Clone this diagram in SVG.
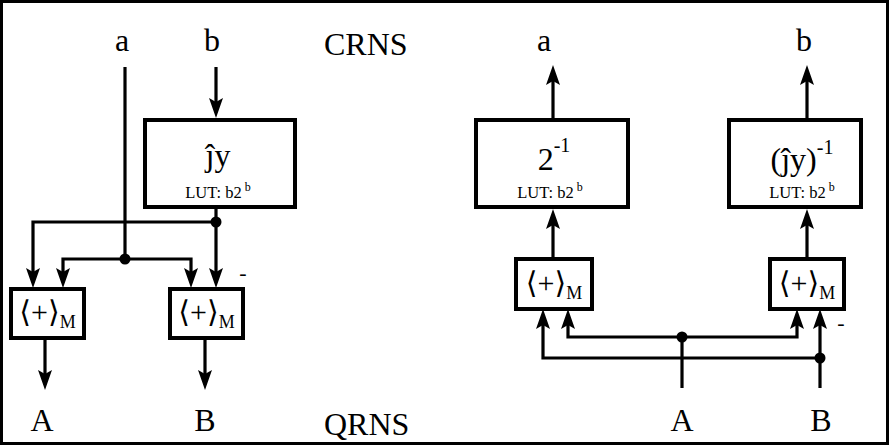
<svg xmlns="http://www.w3.org/2000/svg" width="889" height="445" viewBox="0 0 889 445">
<defs>
<style>
.frame{fill:#fff;stroke:#000;stroke-width:3}
.box{fill:#fff;stroke:#000;stroke-width:4}
.ln{fill:none;stroke:#000;stroke-width:3.2}
.arr{fill:none;stroke:#000;stroke-width:3.2;marker-end:url(#ah)}
.dot{fill:#000}
.lbl{font-family:"Liberation Serif","Times New Roman",serif;font-size:32px;fill:#000}
.big{font-family:"Liberation Serif","DejaVu Serif",serif;font-size:32px;fill:#000}
.lut{font-family:"Liberation Serif","Times New Roman",serif;font-size:16.5px;fill:#000}
.add{font-family:"Liberation Serif","DejaVu Sans",serif;font-size:30px;fill:#000}
.m{font-family:"Liberation Serif",serif;font-size:22px;fill:#000}
</style>
<marker id="ah" markerUnits="userSpaceOnUse" viewBox="-10 -8 24 16" refX="0" refY="0" markerWidth="24" markerHeight="16" orient="auto" overflow="visible">
<path d="M12,0 L-8,-7 L-4,0 L-8,7 Z" fill="#000"/>
</marker>
</defs>
<rect class="frame" x="1.5" y="1.5" width="886" height="442"/>

<g id="labels">
<text class="lbl" x="122" y="51" text-anchor="middle">a</text>
<text class="lbl" x="212" y="51" text-anchor="middle">b</text>
<text class="lbl" x="324" y="55">CRNS</text>
<text class="lbl" x="324" y="435">QRNS</text>
<text class="lbl" x="544" y="51" text-anchor="middle">a</text>
<text class="lbl" x="804" y="51" text-anchor="middle">b</text>
<text class="lbl" x="42" y="431" text-anchor="middle">A</text>
<text class="lbl" x="205" y="431" text-anchor="middle">B</text>
<text class="lbl" x="682" y="431" text-anchor="middle">A</text>
<text class="lbl" x="821" y="431" text-anchor="middle">B</text>
<text class="m" x="243" y="280" text-anchor="middle">-</text>
<text class="m" x="841" y="330" text-anchor="middle">-</text>
</g>

<g id="connectors">
<line class="arr" x1="216" y1="67" x2="216" y2="106"/>
<line class="ln" x1="125" y1="67" x2="125" y2="259"/>
<polyline class="arr" points="216,207 216,276"/>
<polyline class="arr" points="216,222 33,222 33,276"/>
<polyline class="arr" points="125,259 63,259 63,276"/>
<polyline class="arr" points="125,259 191,259 191,276"/>
<line class="arr" x1="45" y1="338" x2="45" y2="378"/>
<line class="arr" x1="205" y1="338" x2="205" y2="378"/>
<line class="arr" x1="553" y1="120" x2="553" y2="77"/>
<line class="arr" x1="807" y1="120" x2="807" y2="77"/>
<line class="arr" x1="553" y1="259" x2="553" y2="221"/>
<line class="arr" x1="807" y1="259" x2="807" y2="221"/>
<line class="ln" x1="682" y1="388" x2="682" y2="337"/>
<polyline class="arr" points="682,337 568,337 568,321"/>
<polyline class="arr" points="682,337 797,337 797,321"/>
<line class="arr" x1="820" y1="388" x2="820" y2="321"/>
<polyline class="arr" points="820,358 543,358 543,321"/>
<circle class="dot" cx="125" cy="259" r="5.5"/>
<circle class="dot" cx="216" cy="222" r="5.5"/>
<circle class="dot" cx="682" cy="337" r="5.5"/>
<circle class="dot" cx="820" cy="358" r="5.5"/>
</g>

<g id="lut-jy">
<rect class="box" x="145" y="120" width="150" height="87"/>
<text class="big" x="218" y="166" text-anchor="middle">ĵy</text>
<text class="lut" x="218" y="198" text-anchor="middle">LUT: b2<tspan font-size="12" dx="3" dy="-7">b</tspan></text>
</g>

<g id="adder-A">
<rect class="box" x="11" y="289" width="73" height="49"/>
<text class="add" x="47.5" y="322" text-anchor="middle">⟨+⟩<tspan font-size="18" dy="6">M</tspan></text>
</g>

<g id="adder-B">
<rect class="box" x="170" y="289" width="73" height="49"/>
<text class="add" x="206.5" y="322" text-anchor="middle">⟨+⟩<tspan font-size="18" dy="6">M</tspan></text>
</g>

<g id="lut-inv2">
<rect class="box" x="476" y="120" width="152" height="87"/>
<text class="big" x="554" y="170" text-anchor="middle">2<tspan font-size="20" dy="-18">-1</tspan></text>
<text class="lut" x="550" y="198" text-anchor="middle">LUT: b2<tspan font-size="12" dx="3" dy="-7">b</tspan></text>
</g>

<g id="lut-invjy">
<rect class="box" x="729" y="120" width="132" height="87"/>
<text class="big" x="802" y="170" text-anchor="middle">(ĵy)<tspan font-size="20" dy="-16">-1</tspan></text>
<text class="lut" x="802" y="198" text-anchor="middle">LUT: b2<tspan font-size="12" dx="3" dy="-7">b</tspan></text>
</g>

<g id="adder-a">
<rect class="box" x="516" y="259" width="76" height="50"/>
<text class="add" x="554" y="293" text-anchor="middle">⟨+⟩<tspan font-size="18" dy="6">M</tspan></text>
</g>

<g id="adder-b">
<rect class="box" x="770" y="259" width="74" height="50"/>
<text class="add" x="807" y="293" text-anchor="middle">⟨+⟩<tspan font-size="18" dy="6">M</tspan></text>
</g>
</svg>
